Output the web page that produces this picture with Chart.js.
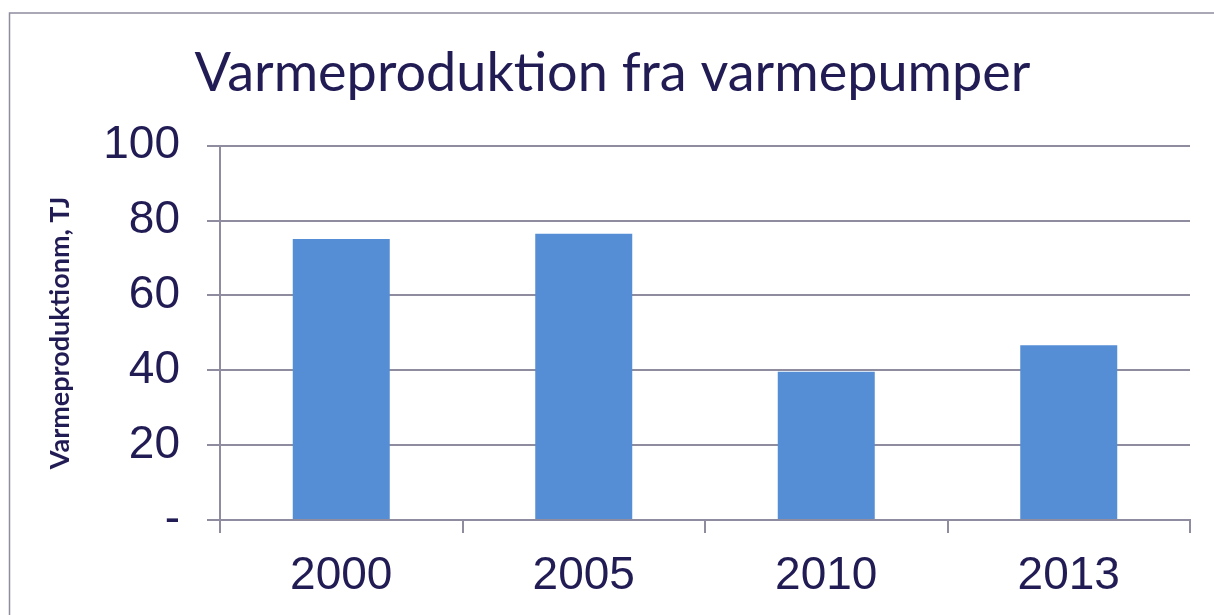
<!DOCTYPE html>
<html>
<head>
<meta charset="utf-8">
<script src="https://cdn.jsdelivr.net/npm/chart.js@4"></script>
<style>
  html, body { margin: 0; padding: 0; background: #fff; }
  #wrap { width: 1214px; height: 615px; }
</style>
</head>
<body>
<div id="wrap"><canvas id="myChart" width="1214" height="615"></canvas></div>
<script>
const aar = ["2000", "2005", "2010", "2013"];
const varmeproduktion = [75.1, 76.5, 39.6, 46.7];
const yTicks = [0, 20, 40, 60, 80, 100];

const tekstFarve = "#221c55";
const gitterFarve = "#8e8c9e";

// ramme rundt om diagrammet (kun top og venstre er synlige)
const ramme = {
  id: "ramme",
  afterDraw(chart) {
    const ctx = chart.ctx;
    ctx.save();
    ctx.strokeStyle = gitterFarve;
    ctx.lineWidth = 1.5;
    ctx.beginPath();
    ctx.moveTo(9.5, 615);
    ctx.lineTo(9.5, 13);
    ctx.lineTo(1214, 13);
    ctx.stroke();
    ctx.restore();
  }
};

const config = {
  type: "bar",
  data: {
    labels: aar,
    datasets: [{
      label: "Varmeproduktion",
      data: varmeproduktion,
      backgroundColor: "#558ed5",
      borderWidth: 0,
      categoryPercentage: 1,
      barPercentage: 0.4
    }]
  },
  options: {
    responsive: false,
    animation: false,
    layout: { padding: { left: 35, right: 24, top: 0, bottom: 0 } },
    plugins: {
      legend: { display: false },
      tooltip: { enabled: false },
      title: {
        display: true,
        text: "Varmeproduktion fra varmepumper",
        color: tekstFarve,
        font: { family: "Lato", size: 54, weight: "normal" },
        padding: { top: 41, bottom: 40 }
      }
    },
    scales: {
      x: {
        offset: true,
        grid: {
          display: true,
          drawOnChartArea: false,
          drawTicks: true,
          tickLength: 13,
          color: gitterFarve,
          lineWidth: 2
        },
        border: { display: true, color: gitterFarve, width: 2 },
        ticks: {
          color: tekstFarve,
          font: { family: "Liberation Sans", size: 46 },
          padding: 16,
          maxRotation: 0
        },
        afterFit(scale) {
          scale.height = 95;
          scale.paddingLeft = 0;
          scale.paddingRight = 0;
        }
      },
      y: {
        min: 0,
        max: 100,
        afterBuildTicks(scale) {
          scale.ticks = yTicks.map(v => ({ value: v }));
        },
        grid: {
          color: gitterFarve,
          lineWidth: 2,
          tickLength: 13
        },
        border: { display: true, color: gitterFarve, width: 2 },
        ticks: {
          color: tekstFarve,
          font: { family: "Liberation Sans", size: 46 },
          padding: 27,
          callback: v => (v === 0 ? "-" : v)
        },
        title: {
          display: true,
          text: "Varmeproduktionm, TJ",
          color: tekstFarve,
          font: { family: "Lato", size: 27, weight: "bold" },
          padding: { top: 9, bottom: 0 }
        },
        afterFit(scale) {
          scale.width = 185;
          scale.paddingTop = 0;
          scale.paddingBottom = 0;
        }
      }
    }
  },
  plugins: [ramme]
};

new Chart(document.getElementById("myChart"), config);
</script>
</body>
</html>
